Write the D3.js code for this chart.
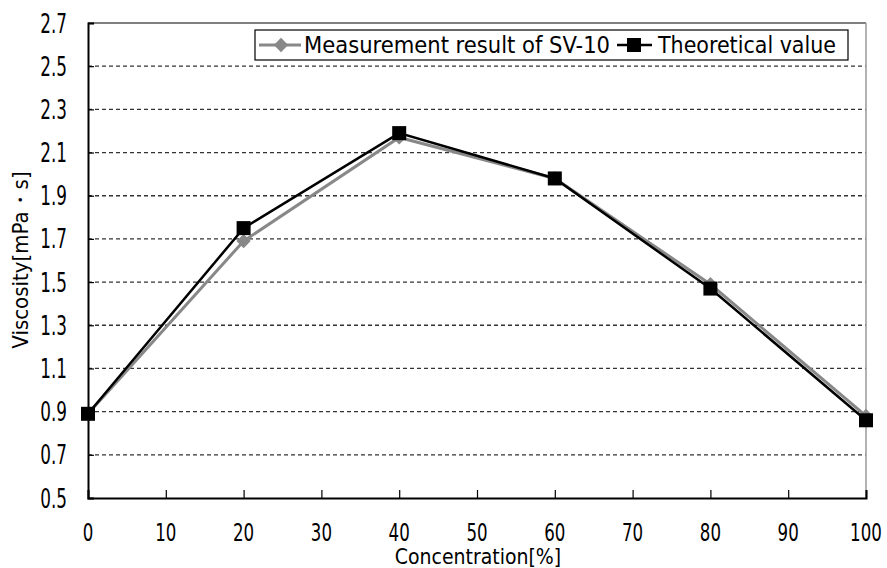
<!DOCTYPE html>
<html><head><meta charset="utf-8">
<script src="https://cdn.jsdelivr.net/npm/d3@7"></script>
<style>body{margin:0;background:#fff}</style>
</head><body>
<svg id="c" width="887" height="568"></svg>
<script>
const concentration = [0, 20, 40, 60, 80, 100];
const measured = [0.89, 1.69, 2.17, 1.98, 1.49, 0.88];
const theoretical = [0.89, 1.75, 2.19, 1.98, 1.47, 0.86];
const xTicks = [0,10,20,30,40,50,60,70,80,90,100];
const yTicks = [0.5,0.7,0.9,1.1,1.3,1.5,1.7,1.9,2.1,2.3,2.5,2.7];
const seriesNames = ["Measurement result of SV-10", "Theoretical value"];

const font = "'DejaVu Sans Condensed','DejaVu Sans',sans-serif";
const svg = d3.select("#c");
const L = 88, R = 866, T = 23, B = 498;
const x = d3.scaleLinear().domain([0,100]).range([L,R]);
const y = d3.scaleLinear().domain([0.5,2.7]).range([B,T]);

// gridlines
svg.append("g").selectAll("line").data(yTicks.filter(v=>v>0.5 && v<2.7)).join("line")
  .attr("x1",L).attr("x2",R).attr("y1",d=>y(d)).attr("y2",d=>y(d))
  .attr("stroke","#333").attr("stroke-width",1.3).attr("stroke-dasharray","4,3");

// frame
svg.append("line").attr("x1",L).attr("x2",R).attr("y1",T).attr("y2",T).attr("stroke","#555").attr("stroke-width",1.5);
svg.append("line").attr("x1",R).attr("x2",R).attr("y1",T).attr("y2",B).attr("stroke","#999").attr("stroke-width",1.5);

// x axis
const xAxis = d3.axisBottom(x).tickValues(xTicks).tickSize(-8).tickFormat("");
const gx = svg.append("g").attr("transform",`translate(0,${B})`).call(xAxis);
gx.select(".domain").attr("stroke","#000").attr("stroke-width",2);
gx.selectAll(".tick line").attr("stroke","#000").attr("stroke-width",1.2);
svg.append("g").selectAll("text").data(xTicks).join("text")
  .attr("transform",d=>`translate(${x(d)},541) scale(0.74,1)`)
  .attr("text-anchor","middle").attr("font-family",font).attr("font-size",25).attr("fill","#000")
  .text(d3.format("d"));

// y axis
const yAxis = d3.axisLeft(y).tickValues(yTicks).tickSize(-6).tickFormat("");
const gy = svg.append("g").attr("transform",`translate(${L},0)`).call(yAxis);
gy.select(".domain").attr("stroke","#000").attr("stroke-width",2);
gy.selectAll(".tick line").attr("stroke","#000").attr("stroke-width",1.2);
svg.append("g").selectAll("text").data(yTicks).join("text")
  .attr("transform",d=>`translate(67,${y(d)+9.5}) scale(0.72,1)`)
  .attr("text-anchor","end").attr("font-family",font).attr("font-size",26).attr("fill","#000")
  .text(d3.format(".1f"));

// series
const line = d3.line().x((d,i)=>x(concentration[i])).y(d=>y(d));
svg.append("path").datum(measured).attr("d",line).attr("fill","none").attr("stroke","#888").attr("stroke-width",3);
svg.append("path").datum(theoretical).attr("d",line).attr("fill","none").attr("stroke","#000").attr("stroke-width",2.5);

const diamond = d3.symbol().type(d3.symbolDiamond2).size(130);
svg.append("g").selectAll("path").data(measured).join("path")
  .attr("d",diamond).attr("transform",(d,i)=>`translate(${x(concentration[i])},${y(d)})`).attr("fill","#888");
svg.append("g").selectAll("rect").data(theoretical).join("rect")
  .attr("x",(d,i)=>x(concentration[i])-7).attr("y",d=>y(d)-7).attr("width",14).attr("height",14).attr("fill","#000");

// legend
const lg = svg.append("g");
lg.append("rect").attr("x",255).attr("y",30).attr("width",593).attr("height",30).attr("fill","#fff").attr("stroke","#000").attr("stroke-width",1.2);
lg.append("line").attr("x1",259).attr("x2",301).attr("y1",45).attr("y2",45).attr("stroke","#888").attr("stroke-width",3);
lg.append("path").attr("d",diamond).attr("transform","translate(281,45)").attr("fill","#888");
lg.append("text").attr("transform","translate(304,53)").text(seriesNames[0]).attr("font-family",font).attr("font-size",23)
  .attr("textLength",306).attr("lengthAdjust","spacingAndGlyphs");
lg.append("line").attr("x1",617).attr("x2",652).attr("y1",45).attr("y2",45).attr("stroke","#000").attr("stroke-width",2.5);
lg.append("rect").attr("x",627).attr("y",38).attr("width",14).attr("height",14).attr("fill","#000");
lg.append("text").attr("transform","translate(658,53)").text(seriesNames[1]).attr("font-family",font).attr("font-size",23)
  .attr("textLength",178).attr("lengthAdjust","spacingAndGlyphs");

// axis titles
svg.append("text").attr("transform","translate(478,564)").attr("text-anchor","middle").text("Concentration[%]").attr("font-family",font).attr("font-size",21);
svg.append("text").attr("transform","translate(28,260) rotate(-90)").attr("text-anchor","middle").text("Viscosity[mPa・s]").attr("font-family",font).attr("font-size",22);
</script>
</body></html>
